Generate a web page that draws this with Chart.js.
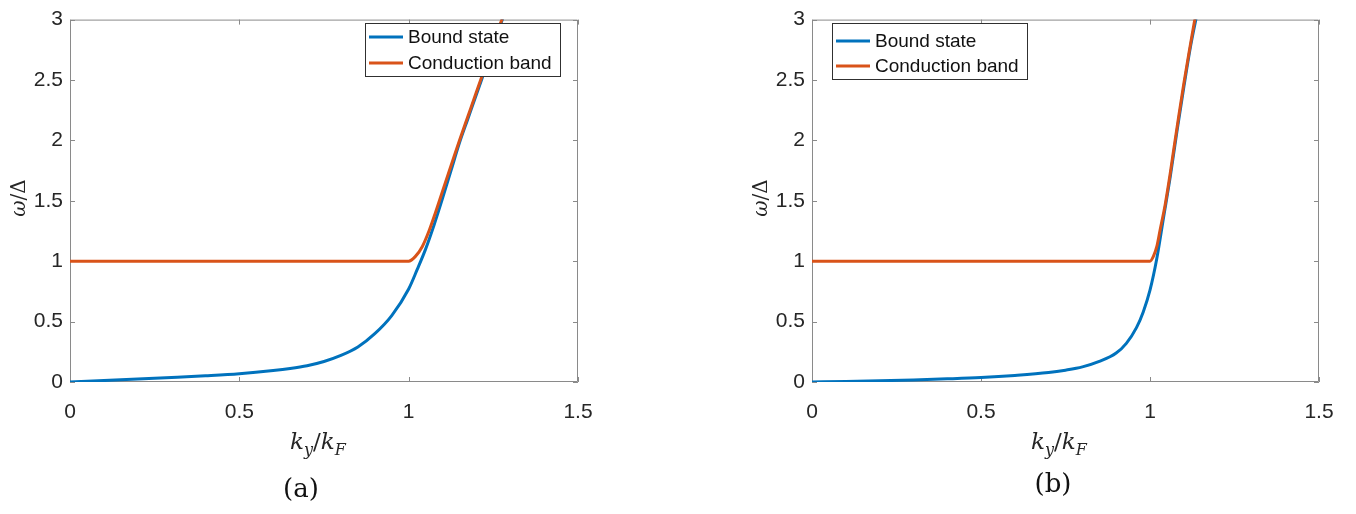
<!DOCTYPE html>
<html>
<head>
<meta charset="utf-8">
<title>Bound state vs conduction band</title>
<script src="https://cdn.jsdelivr.net/npm/chart.js@4.4.0/dist/chart.umd.min.js"></script>
<style>
  html, body { margin: 0; padding: 0; background: #fff; }
  body { width: 1356px; height: 514px; position: relative; overflow: hidden; }
  canvas { position: absolute; top: 0; }
  #chartA { left: 0; }
  #chartB { left: 742px; }
</style>
</head>
<body>
<canvas id="chartA" width="640" height="514"></canvas>
<canvas id="chartB" width="614" height="514"></canvas>
<script>
// ticks and labels
const xTicks = [0, 0.5, 1, 1.5];
const yTicks = [0, 0.5, 1, 1.5, 2, 2.5, 3];
const seriesLabels = ['Bound state', 'Conduction band'];
const panelLabels = ['(a)', '(b)'];

// panel (a)
const kBoundA = [0, 0.1, 0.2, 0.3, 0.4, 0.5, 0.6, 0.65, 0.7, 0.75, 0.8, 0.85, 0.9, 0.95, 1.0, 1.025, 1.05, 1.075, 1.1, 1.125, 1.15, 1.175, 1.2, 1.225, 1.25, 1.28];
const wBoundA = [0, 0.012, 0.025, 0.038, 0.052, 0.069, 0.095, 0.112, 0.135, 0.17, 0.22, 0.29, 0.4, 0.55, 0.77, 0.93, 1.1, 1.3, 1.52, 1.75, 1.98, 2.18, 2.38, 2.58, 2.78, 3.03];
const kBandA = [0, 1.0, 1.02, 1.04, 1.06, 1.08, 1.1, 1.125, 1.15, 1.175, 1.2, 1.225, 1.25, 1.28];
const wBandA = [1, 1, 1.04, 1.12, 1.25, 1.41, 1.58, 1.79, 2.0, 2.2, 2.4, 2.6, 2.8, 3.04];

// panel (b)
const kBoundB = [0, 0.1, 0.2, 0.3, 0.4, 0.5, 0.6, 0.7, 0.75, 0.8, 0.85, 0.9, 0.93, 0.96, 0.98, 1.0, 1.02, 1.04, 1.06, 1.08, 1.1, 1.12, 1.14];
const wBoundB = [0, 0.004, 0.01, 0.017, 0.026, 0.037, 0.054, 0.078, 0.098, 0.125, 0.17, 0.24, 0.32, 0.45, 0.58, 0.76, 1.02, 1.36, 1.7, 2.08, 2.44, 2.78, 3.06];
const kBandB = [0, 1.0, 1.01, 1.02, 1.03, 1.045, 1.06, 1.07, 1.085, 1.1, 1.115, 1.135];
const wBandB = [1, 1, 1.04, 1.12, 1.26, 1.47, 1.73, 1.92, 2.2, 2.47, 2.72, 3.04];

const BLUE = '#0072BD';
const ORANGE = '#D95319';
const AXIS = '#8a8a8a';
const SERIF = '"DejaVu Serif", "Liberation Serif", serif';

Chart.defaults.font.family = '"Liberation Sans", Arial, Helvetica, sans-serif';

const toPoints = (xs, ys) => xs.map((v, i) => ({x: v, y: ys[i]}));

// draws a row of text pieces (italic / subscript) centred on cx
function drawPieces(ctx, pieces, cx, baseY, size) {
  const fontOf = p => (p.it ? 'italic ' : '') + Math.round(p.sub ? size * 0.7 : size) + 'px ' + SERIF;
  let total = 0;
  pieces.forEach(p => { ctx.font = fontOf(p); total += ctx.measureText(p.t).width; });
  let x = cx - total / 2;
  ctx.textAlign = 'left';
  ctx.textBaseline = 'alphabetic';
  pieces.forEach(p => {
    ctx.font = fontOf(p);
    ctx.fillText(p.t, x, baseY + (p.sub ? size * 0.25 : 0));
    x += ctx.measureText(p.t).width;
  });
}

const matlabAxes = {
  id: 'matlabAxes',
  beforeDatasetsDraw(chart) {
    const {ctx, chartArea: a, scales: {x, y}} = chart;
    ctx.save();
    ctx.strokeStyle = AXIS;
    ctx.lineWidth = 1;
    ctx.beginPath();
    ctx.rect(a.left + 0.5, a.top + 0.5, a.right - a.left - 1, a.bottom - a.top - 1);
    xTicks.forEach(v => {
      const px = Math.round(x.getPixelForValue(v)) + 0.5;
      ctx.moveTo(px, a.bottom); ctx.lineTo(px, a.bottom - 5);
      ctx.moveTo(px, a.top); ctx.lineTo(px, a.top + 5);
    });
    yTicks.forEach(v => {
      const py = Math.round(y.getPixelForValue(v)) + 0.5;
      ctx.moveTo(a.left, py); ctx.lineTo(a.left + 5, py);
      ctx.moveTo(a.right, py); ctx.lineTo(a.right - 5, py);
    });
    ctx.stroke();
    ctx.restore();
  },
  afterDraw(chart, args, opts) {
    const {ctx} = chart;
    ctx.save();
    // legend
    const L = opts.legend;
    ctx.fillStyle = '#fff';
    ctx.fillRect(L.left, L.top, L.width, L.height);
    ctx.strokeStyle = '#303030';
    ctx.lineWidth = 1;
    ctx.strokeRect(L.left + 0.5, L.top + 0.5, L.width, L.height);
    chart.data.datasets.forEach((ds, i) => {
      const ry = L.top + L.rows[i];
      ctx.strokeStyle = ds.borderColor;
      ctx.lineWidth = 3;
      ctx.beginPath();
      ctx.moveTo(L.left + 4, ry); ctx.lineTo(L.left + 38, ry);
      ctx.stroke();
      ctx.fillStyle = '#111';
      ctx.font = '19px "Liberation Sans", Arial, sans-serif';
      ctx.textAlign = 'left';
      ctx.textBaseline = 'middle';
      ctx.fillText(ds.label, L.left + 43, ry + 1);
    });
    // axis titles
    ctx.fillStyle = '#262626';
    drawPieces(ctx, [{t: 'k', it: true}, {t: 'y', it: true, sub: true}, {t: '/'}, {t: 'k', it: true}, {t: 'F', it: true, sub: true}],
      opts.xTitleX, 449, 23);
    ctx.save();
    ctx.translate(opts.yTitleX, 198);
    ctx.rotate(-Math.PI / 2);
    drawPieces(ctx, [{t: 'ω', it: true}, {t: '/'}, {t: 'Δ'}], 0, 0, 20);
    ctx.restore();
    // panel caption
    ctx.fillStyle = '#111';
    ctx.font = '26px ' + SERIF;
    ctx.textAlign = 'center';
    ctx.textBaseline = 'alphabetic';
    ctx.fillText(opts.caption, opts.captionX, opts.captionY);
    ctx.restore();
  }
};

function makePanel(id, kBound, wBound, kBand, wBand, padRight, extra) {
  const fixTicks = list => scale => { scale.ticks = list.map(v => ({value: v})); };
  return new Chart(document.getElementById(id), {
    type: 'line',
    data: {
      datasets: [
        {label: seriesLabels[0], data: toPoints(kBound, wBound), borderColor: BLUE, borderWidth: 3, order: 1,
         pointRadius: 0, cubicInterpolationMode: 'monotone', fill: false},
        {label: seriesLabels[1], data: toPoints(kBand, wBand), borderColor: ORANGE, borderWidth: 3, order: 0,
         pointRadius: 0, cubicInterpolationMode: 'monotone', fill: false}
      ]
    },
    options: {
      responsive: false,
      animation: false,
      events: [],
      layout: {padding: {left: 0, top: 6, right: padRight, bottom: 82}},
      plugins: {
        legend: {display: false},
        tooltip: {enabled: false},
        matlabAxes: extra
      },
      scales: {
        x: {
          type: 'linear', min: 0, max: 1.5,
          afterBuildTicks: fixTicks(xTicks),
          afterFit: s => { s.height = 50; },
          grid: {display: false, drawTicks: false},
          border: {display: false},
          ticks: {padding: 18, color: '#262626', font: {size: 21}, maxRotation: 0,
                  callback: v => String(v)}
        },
        y: {
          type: 'linear', min: 0, max: 3,
          afterBuildTicks: fixTicks(yTicks),
          afterFit: s => { s.width = 70; },
          grid: {display: false, drawTicks: false},
          border: {display: false},
          ticks: {padding: 7, color: '#262626', font: {size: 21}, callback: v => String(v)}
        }
      }
    },
    plugins: [matlabAxes]
  });
}

makePanel('chartA', kBoundA, wBoundA, kBandA, wBandA, 62, {
  legend: {left: 365, top: 23, width: 195, height: 53, rows: [14, 40]},
  xTitleX: 318, yTitleX: 25, caption: panelLabels[0], captionX: 301, captionY: 497
});
makePanel('chartB', kBoundB, wBoundB, kBandB, wBandB, 37, {
  legend: {left: 90, top: 23, width: 195, height: 56, rows: [18, 43]},
  xTitleX: 317, yTitleX: 25, caption: panelLabels[1], captionX: 311, captionY: 492
});
</script>
</body>
</html>
